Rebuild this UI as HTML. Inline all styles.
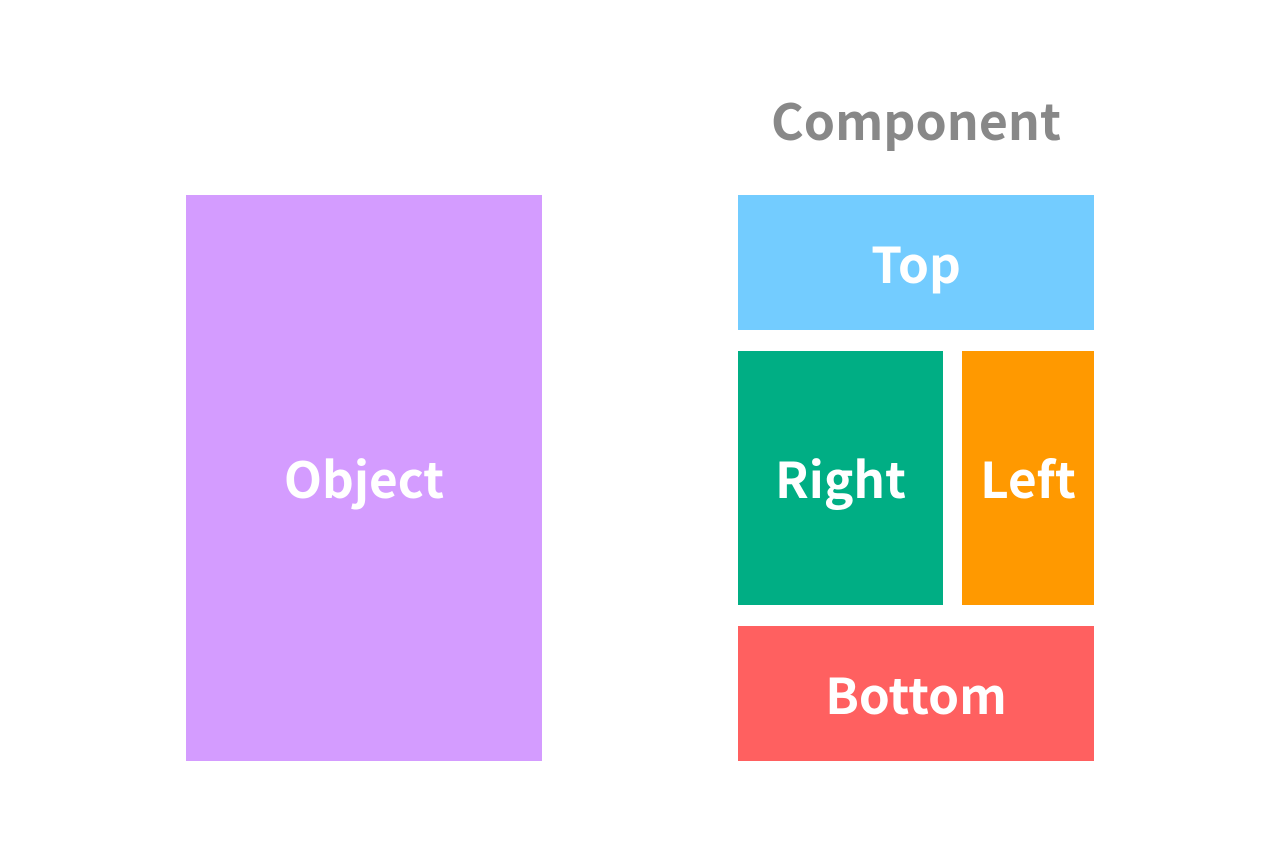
<!DOCTYPE html>
<html><head><meta charset="utf-8"><style>
html,body{margin:0;padding:0;background:#fff;width:1280px;height:844px;overflow:hidden}
.b{position:absolute;display:flex;align-items:center;justify-content:center;color:#fff;font-family:"Noto Sans CJK JP","Liberation Sans",sans-serif;font-weight:bold;font-size:49.5px;line-height:1}
.t{position:absolute;left:738px;width:356px;top:87px;text-align:center;color:#888;font-family:"Noto Sans CJK JP","Liberation Sans",sans-serif;font-weight:bold;font-size:50px;line-height:64px}
</style></head><body>
<div class="t">Component</div>
<div class="b" style="left:186px;top:195px;width:356px;height:566px;background:#d49cff">Object</div>
<div class="b" style="left:738px;top:195px;width:356px;height:135px;background:#73ccff">Top</div>
<div class="b" style="left:738px;top:351px;width:205px;height:254px;background:#00ae84">Right</div>
<div class="b" style="left:962px;top:351px;width:132px;height:254px;background:#ff9900">Left</div>
<div class="b" style="left:738px;top:626px;width:356px;height:135px;background:#ff6060">Bottom</div>
</body></html>
